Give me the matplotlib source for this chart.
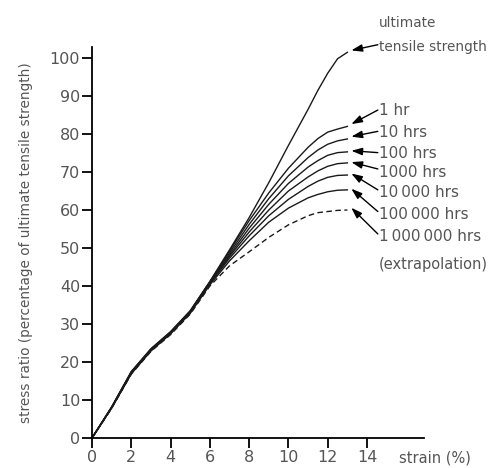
import matplotlib
matplotlib.use('Agg')
import matplotlib.pyplot as plt

plt.rcParams['font.family'] = ['DejaVu Sans']

# strain (%) sample points shared by every curve
strain = [0, 1, 2, 3, 4, 5, 6, 7, 8, 9, 10, 11, 11.5, 12, 12.5, 13]

# stress ratio (% of ultimate tensile strength)
uts = [0, 8.2, 17.5, 23.5, 28, 33.5, 41.2, 49.5, 58, 67.2, 77, 86.5, 91.5, 96, 99.8, 101.5]
hr_1 = [0, 8.1, 17.4, 23.4, 27.9, 33.4, 41.1, 49.2, 57.2, 64.5, 71, 76.5, 78.8, 80.5, 81.3, 82]
hr_10 = [0, 8.1, 17.3, 23.3, 27.8, 33.3, 41, 48.7, 56.2, 63, 69, 73.8, 75.8, 77.3, 78.2, 78.7]
hr_100 = [0, 8, 17.2, 23.2, 27.7, 33.2, 40.9, 48.2, 55.2, 61.5, 67, 71.3, 73, 74.4, 75.1, 75.3]
hr_1000 = [0, 8, 17.1, 23.1, 27.6, 33.1, 40.8, 47.8, 54.2, 60, 65, 68.7, 70.3, 71.5, 72.2, 72.4]
hr_10000 = [0, 7.9, 17, 23, 27.5, 33, 40.6, 47.3, 53.2, 58.5, 62.8, 66.2, 67.6, 68.6, 69.1, 69.2]
hr_100000 = [0, 7.9, 16.9, 22.9, 27.4, 32.8, 40.3, 46.6, 51.9, 56.8, 60.5, 63.2, 64.1, 64.8, 65.2, 65.3]
hr_1000000 = [0, 7.8, 16.8, 22.8, 27.2, 32.6, 40, 45.3, 49, 52.8, 56.1, 58.5, 59.3, 59.6, 59.9, 60]

solid_curves = [uts, hr_1, hr_10, hr_100, hr_1000, hr_10000, hr_100000]

# label text and its stress level, plus the arrow tip on the curve end
labels = ['tensile strength', '1 hr', '10 hrs', '100 hrs', '1000 hrs',
          '10\u2009000 hrs', '100\u2009000 hrs', '1\u2009000\u2009000 hrs']
label_y = [102.9, 86.3, 80.5, 75, 70, 64.5, 58.7, 52.9]
tail_y = [103.5, 86.3, 80.7, 75.1, 70.8, 65.3, 59.6, 53.7]
tip_y = [102.0, 82.6, 79.3, 75.6, 72.6, 69.6, 65.6, 60.6]

fig = plt.figure(figsize=(4.97, 4.68), dpi=100)
ax = fig.add_axes([0.1851, 0.0641, 0.668, 0.8355])

for s in solid_curves:
    ax.plot(strain, s, color='#1a1a1a', lw=1.0, clip_on=False)
ax.plot(strain, hr_1000000, color='#1a1a1a', lw=1.0, dashes=(4, 2.5), clip_on=False)

text_color = '#555555'
fs = 11
arrow = dict(arrowstyle='-|>,head_length=0.65,head_width=0.22',
             color='black', lw=1.0, shrinkA=0, shrinkB=0)
for lab, ly, tl, ty in zip(labels, label_y, tail_y, tip_y):
    ax.annotate('', xy=(13.2, ty), xytext=(14.55, tl), arrowprops=arrow,
                annotation_clip=False)
    size = 9.8 if lab == 'tensile strength' else fs
    ax.text(14.6, ly, lab, fontsize=size, color=text_color, va='center', ha='left',
            clip_on=False)
ax.text(14.6, 109.2, 'ultimate', fontsize=9.8, color=text_color, va='center',
        ha='left', clip_on=False)
ax.text(14.6, 45.6, '(extrapolation)', fontsize=10.5, color=text_color, va='center',
        ha='left', clip_on=False)

ax.set_xlim(0, 16.9)
ax.set_ylim(0, 102.9)
ax.set_xticks([0, 2, 4, 6, 8, 10, 12, 14])
ax.set_yticks(range(0, 101, 10))
ax.spines['top'].set_visible(False)
ax.spines['right'].set_visible(False)
for sp in ('left', 'bottom'):
    ax.spines[sp].set_linewidth(1.3)
    ax.spines[sp].set_color('black')
ax.tick_params(axis='both', direction='out', length=7, width=1.3, color='black',
               labelsize=11.5, labelcolor=text_color, pad=1.5)

ax.set_ylabel('stress ratio (percentage of ultimate tensile strength)',
              fontsize=9.8, color=text_color, labelpad=12)
ax.text(17.45, -5.3, 'strain (%)', fontsize=10.5, color=text_color,
        ha='center', va='center', clip_on=False)

fig.savefig('out.png', dpi=100)
